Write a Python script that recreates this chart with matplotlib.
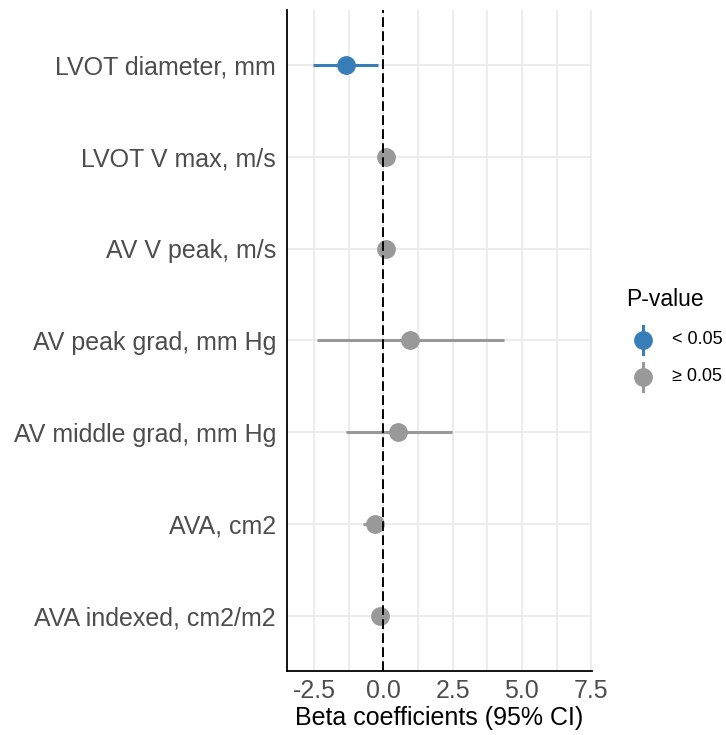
import matplotlib
matplotlib.use("Agg")
import matplotlib.pyplot as plt
from matplotlib.lines import Line2D

plt.rcParams['font.family'] = ['Liberation Sans', 'DejaVu Sans']

labels = ["LVOT diameter, mm", "LVOT V max, m/s", "AV V peak, m/s",
          "AV peak grad, mm Hg", "AV middle grad, mm Hg", "AVA, cm2",
          "AVA indexed, cm2/m2"]
beta = [-1.36, 0.10, 0.10, 0.96, 0.54, -0.32, -0.14]
lower = [-2.53, 0.05, 0.05, -2.40, -1.36, -0.72, -0.20]
upper = [-0.20, 0.15, 0.15, 4.37, 2.47, -0.05, -0.08]
signif = [True, False, False, False, False, False, False]
xticks = [-2.5, 0.0, 2.5, 5.0, 7.5]
legend_labels = ["< 0.05", "\u2265 0.05"]

blue = "#377EB8"
grey = "#999999"

W, H = 726, 735
fig = plt.figure(figsize=(W/100, H/100), dpi=100)
ax = fig.add_axes([287/W, 1-671/H, (591.7-287)/W, (671-10)/H])

n = len(labels)
ypos = list(range(n, 0, -1))
for y, b, lo, hi, s in zip(ypos, beta, lower, upper, signif):
    c = blue if s else grey
    ax.plot([lo, hi], [y, y], color=c, lw=2.2, solid_capstyle='butt', zorder=3)
    ax.plot([b], [y], marker='o', color=c, markersize=12.5, zorder=4, ls='')

ax.axvline(0, color='black', ls=(0, (5, 2.2)), lw=1.4, zorder=5)

ax.set_xlim(-3.48, 7.52)
ax.set_ylim(0.4, n + 0.6)
ax.set_xticks(xticks)
ax.set_xticks([-1.25, 1.25, 3.75, 6.25], minor=True)
ax.set_xticklabels([f"{v:.1f}" for v in xticks])
ax.set_yticks(ypos)
ax.set_yticklabels(labels)
ax.grid(True, which='major', color='#EBEBEB', lw=1.3, zorder=0)
ax.grid(True, which='minor', axis='x', color='#EBEBEB', lw=1.3, zorder=0)
ax.tick_params(axis='both', which='both', length=0, labelsize=18, labelcolor='#4D4D4D')
ax.tick_params(axis='y', pad=8)
ax.tick_params(axis='x', pad=6)
for sp in ['top', 'right']:
    ax.spines[sp].set_visible(False)
for sp in ['left', 'bottom']:
    ax.spines[sp].set_color('black')
    ax.spines[sp].set_linewidth(1.3)
ax.set_xlabel("Beta coefficients (95% CI)", fontsize=18, color='black', labelpad=2)

# legend drawn manually
fig.text(626/W, 1-300/H, "P-value", fontsize=16.5, va='center', ha='left')
for yy, c, lab in zip([339.5, 376.5], [blue, grey], legend_labels):
    fig.add_artist(Line2D([642.7/W, 642.7/W], [1-(yy-14)/H, 1-(yy+14)/H],
                          transform=fig.transFigure, color=c, lw=2.2))
    fig.add_artist(Line2D([642.7/W], [1-yy/H], transform=fig.transFigure,
                          color=c, marker='o', markersize=12.5, ls=''))
    fig.text(672/W, 1-yy/H, lab, fontsize=13, va='center', ha='left')

fig.savefig("out.png", dpi=100, facecolor='white')
